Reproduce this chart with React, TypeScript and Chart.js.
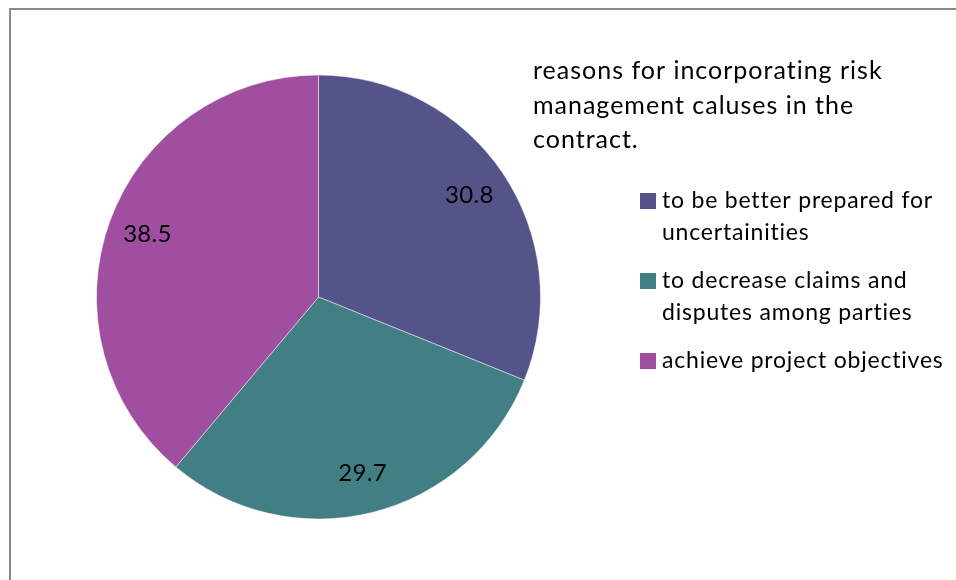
import React, { useEffect, useRef } from "react";
import { Chart, registerables } from "chart.js";

Chart.register(...registerables);

const categories = [
  "to be better prepared for uncertainities",
  "to decrease claims and disputes among parties",
  "achieve project objectives",
];
const values = [30.8, 29.7, 38.5];
const sliceColors = ["#545489", "#427F84", "#A04EA0"];
const valueLabels = ["30.8", "29.7", "38.5"];
const titleLines = ["reasons for incorporating risk", "management caluses in the", "contract."];

const FONT = "Lato, 'Open Sans', sans-serif";

function wrap(ctx: CanvasRenderingContext2D, text: string, maxW: number): string[] {
  const words = text.split(" ");
  const lines: string[] = [];
  let cur = "";
  for (const w of words) {
    const t = cur ? cur + " " + w : w;
    if (ctx.measureText(t).width > maxW && cur) {
      lines.push(cur);
      cur = w;
    } else cur = t;
  }
  if (cur) lines.push(cur);
  return lines;
}

const decorPlugin = {
  id: "decor",
  beforeDraw(chart: any) {
    const ctx = chart.ctx as CanvasRenderingContext2D;
    ctx.save();
    ctx.fillStyle = "#8a8a8a";
    ctx.fillRect(9, 8, 947, 2);
    ctx.fillRect(9, 8, 2, 572);
    ctx.restore();
  },
  afterDraw(chart: any) {
    const ctx = chart.ctx as any;
    ctx.save();
    ctx.fillStyle = "#000";
    ctx.textBaseline = "middle";
    // value labels
    const meta = chart.getDatasetMeta(0);
    ctx.font = `24px ${FONT}`;
    ctx.letterSpacing = "0.3px";
    ctx.textAlign = "center";
    meta.data.forEach((arc: any, i: number) => {
      const p = arc.getProps(["x", "y", "startAngle", "endAngle", "outerRadius"], true);
      const mid = (p.startAngle + p.endAngle) / 2;
      const r = p.outerRadius * 0.82;
      ctx.fillText(valueLabels[i], p.x + Math.cos(mid) * r, p.y + Math.sin(mid) * r);
    });
    // title
    ctx.textAlign = "left";
    ctx.font = `25px ${FONT}`;
    ctx.letterSpacing = "1px";
    titleLines.forEach((l, i) => ctx.fillText(l, 533, 71 + i * 34.5));
    // legend
    ctx.font = `23px ${FONT}`;
    ctx.letterSpacing = "0.8px";
    let y = 201;
    categories.forEach((c, i) => {
      ctx.fillStyle = sliceColors[i];
      ctx.fillRect(640, y - 8, 16, 16);
      ctx.fillStyle = "#000";
      const lines = wrap(ctx, c, 292);
      lines.forEach((l, j) => ctx.fillText(l, 662, y + j * 32));
      y += lines.length * 32 + 16;
    });
    ctx.restore();
  },
};

export default function App() {
  const ref = useRef<HTMLCanvasElement>(null);
  useEffect(() => {
    if (!ref.current) return;
    const chart = new Chart(ref.current, {
      type: "pie",
      data: {
        labels: categories,
        datasets: [
          {
            data: values,
            backgroundColor: sliceColors,
            borderColor: "rgba(255,255,255,0.45)",
            borderWidth: 1,
          },
        ],
      },
      options: {
        responsive: false,
        animation: false,
        layout: { padding: { left: 96, top: 74.5, right: 415, bottom: 60.5 } },
        plugins: { legend: { display: false }, tooltip: { enabled: false }, title: { display: false } },
      },
      plugins: [decorPlugin],
    });
    return () => chart.destroy();
  }, []);
  return (
    <div style={{ position: "fixed", left: 0, top: 0, width: 956, height: 580, background: "#fff" }}>
      <canvas ref={ref} width={956} height={580} style={{ width: 956, height: 580, display: "block" }} />
    </div>
  );
}
